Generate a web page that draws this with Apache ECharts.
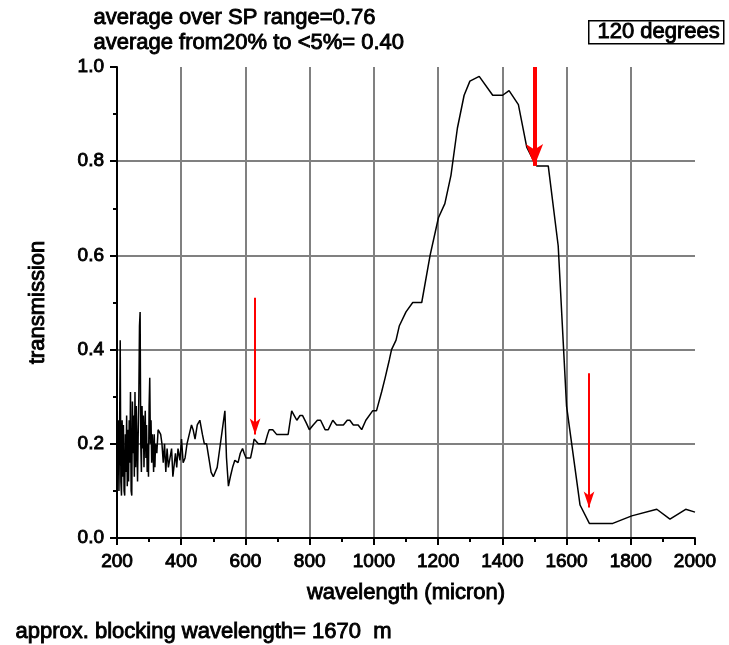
<!DOCTYPE html>
<html>
<head>
<meta charset="utf-8">
<style>
  html, body { margin: 0; padding: 0; background: #fff; }
  #chart { width: 729px; height: 645px; }
</style>
<script src="https://cdn.jsdelivr.net/npm/echarts@6/dist/echarts.min.js"></script>
</head>
<body>
<div id="chart"></div>
<script>
// Wavelength samples (axis labelled "micron") and measured transmission
var wavelength = [
  200, 202, 204, 206, 208, 210, 212, 214, 216, 218, 220, 222, 224, 226, 228, 230,
  232, 234, 236, 238, 240, 242, 244, 246, 248, 250, 252, 254, 256, 258, 260, 262,
  264, 266, 268, 270, 272, 274, 276, 278, 280, 282, 284, 286, 288, 290, 292, 294,
  296, 298, 300, 302, 304, 306, 308, 310, 312, 314, 316, 318, 320, 324, 328, 332,
  336, 340, 344, 348, 352, 356, 360, 365, 370, 374, 378, 382, 386, 390, 396, 401,
  406, 412, 418, 425, 432, 437, 443, 450, 458, 466, 472, 479, 486, 493, 500, 505,
  512, 520, 528, 536, 541, 547, 553, 560, 567, 577, 584, 591, 596, 602, 616, 622,
  627, 633, 640, 661, 669, 674, 685, 697, 733, 744, 752, 760, 770, 778, 789, 799,
  811, 824, 834, 848, 858, 872, 884, 905, 917, 925, 936, 951, 962, 975, 996, 1008,
  1024, 1035, 1048, 1055, 1069, 1079, 1100, 1121, 1149, 1175, 1201, 1221, 1240, 1260, 1281, 1299,
  1328, 1370, 1401, 1421, 1450, 1476, 1502, 1507, 1543, 1574, 1600, 1642, 1671, 1744, 1803, 1881,
  1922, 1971, 2000
];
var transmission = [
  0.30, 0.15, 0.25, 0.10, 0.22, 0.42, 0.12, 0.09, 0.25, 0.13, 0.24, 0.10, 0.09, 0.22, 0.14, 0.26,
  0.11, 0.23, 0.12, 0.25, 0.16, 0.31, 0.10, 0.09, 0.29, 0.18, 0.26, 0.13, 0.31, 0.15, 0.28, 0.20,
  0.12, 0.22, 0.30, 0.45, 0.48, 0.20, 0.14, 0.28, 0.19, 0.26, 0.15, 0.22, 0.27, 0.17, 0.24, 0.14,
  0.20, 0.13, 0.28, 0.34, 0.20, 0.25, 0.16, 0.22, 0.19, 0.14, 0.22, 0.15, 0.20, 0.18, 0.23, 0.23,
  0.22, 0.20, 0.16, 0.20, 0.14, 0.19, 0.15, 0.15, 0.19, 0.13, 0.13, 0.18, 0.15, 0.19, 0.165, 0.21,
  0.16, 0.17, 0.20, 0.22, 0.24, 0.23, 0.21, 0.24, 0.25, 0.22, 0.20, 0.20, 0.17, 0.14, 0.13, 0.13,
  0.15, 0.19, 0.23, 0.27, 0.17, 0.11, 0.13, 0.15, 0.165, 0.16, 0.18, 0.19, 0.18, 0.17, 0.17, 0.19,
  0.21, 0.21, 0.20, 0.20, 0.22, 0.23, 0.23, 0.22, 0.22, 0.27, 0.26, 0.25, 0.26, 0.26, 0.245, 0.23,
  0.24, 0.25, 0.25, 0.23, 0.23, 0.25, 0.24, 0.24, 0.25, 0.25, 0.24, 0.24, 0.23, 0.25, 0.27, 0.27,
  0.31, 0.34, 0.378, 0.40, 0.42, 0.45, 0.48, 0.50, 0.50, 0.60, 0.68, 0.71, 0.77, 0.87, 0.94, 0.97,
  0.98, 0.94, 0.94, 0.95, 0.92, 0.83, 0.795, 0.79, 0.79, 0.62, 0.28, 0.07, 0.031, 0.031, 0.047, 0.061,
  0.04, 0.061, 0.055
];

// Red arrows: wavelength, start and end transmission, stroke width
var arrowX = [630, 1500, 1670];
var arrowFrom = [0.51, 1.0, 0.35];
var arrowTo = [0.22, 0.79, 0.065];
var arrowWidth = [2, 4, 2];

// Header / footer annotations
var statLines = ['average over SP range=0.76', 'average from20% to <5%= 0.40'];
var angleLabel = '120 degrees';
var footerText = 'approx. blocking wavelength= 1670  m';

var FONT = '"Liberation Sans", Arial, sans-serif';
var INK = { textBorderColor: '#000', textBorderWidth: 0.9 };

var points = wavelength.map(function (w, i) { return [w, transmission[i]]; });

var arrowSeries = arrowX.map(function (x, i) {
  var thick = arrowWidth[i] > 2;
  return {
    type: 'line',
    data: [],
    silent: true,
    markLine: {
      silent: true,
      animation: false,
      symbol: ['none', 'arrow'],
      symbolSize: thick ? [13, 22] : [8, 16],
      label: { show: false },
      lineStyle: { color: '#ff0000', width: arrowWidth[i], type: 'solid' },
      data: [[{ coord: [x, arrowFrom[i]] }, { coord: [x, arrowTo[i]] }]]
    }
  };
});

function textEl(left, top, str) {
  return {
    type: 'text', left: left, top: top,
    style: { text: str, font: '22px ' + FONT, fill: '#000', stroke: '#000', lineWidth: 0.9 }
  };
}

var chart = echarts.init(document.getElementById('chart'), null, { renderer: 'canvas' });

chart.setOption({
  animation: false,
  backgroundColor: '#ffffff',
  grid: { left: 117, right: 34, top: 67, bottom: 107, containLabel: false },
  xAxis: {
    type: 'value',
    min: 200,
    max: 2000,
    interval: 200,
    name: 'wavelength (micron)',
    nameLocation: 'middle',
    nameGap: 44,
    nameTextStyle: Object.assign({ fontFamily: FONT, fontSize: 22, color: '#000' }, INK),
    axisLine: { show: true, onZero: false, lineStyle: { color: '#000', width: 2 } },
    axisTick: { show: true, inside: false, length: 7, lineStyle: { color: '#000', width: 2 } },
    minorTick: { show: true, splitNumber: 2, length: 4, lineStyle: { color: '#000', width: 2 } },
    axisLabel: Object.assign({
      fontFamily: FONT, fontSize: 19, color: '#000', margin: 14,
      formatter: function (v) { return String(v); }
    }, INK),
    splitLine: { show: true, showMinLine: false, showMaxLine: false, lineStyle: { color: '#808080', width: 2 } }
  },
  yAxis: {
    type: 'value',
    min: 0,
    max: 1,
    interval: 0.2,
    name: 'transmission',
    nameLocation: 'middle',
    nameGap: 68,
    nameTextStyle: Object.assign({ fontFamily: FONT, fontSize: 22, color: '#000' }, INK),
    axisLine: { show: true, onZero: false, lineStyle: { color: '#000', width: 2 } },
    axisTick: { show: true, inside: false, length: 7, lineStyle: { color: '#000', width: 2 } },
    minorTick: { show: true, splitNumber: 2, length: 4, lineStyle: { color: '#000', width: 2 } },
    axisLabel: Object.assign({
      fontFamily: FONT, fontSize: 19, color: '#000', margin: 13,
      formatter: function (v) { return v.toFixed(1); }
    }, INK),
    splitLine: { show: true, showMinLine: false, showMaxLine: false, lineStyle: { color: '#808080', width: 2 } }
  },
  graphic: [
    textEl(93, 6, statLines[0]),
    textEl(93, 31, statLines[1]),
    {
      type: 'rect', left: 588, top: 20,
      shape: { width: 135, height: 23 },
      style: { fill: '#fff', stroke: '#000', lineWidth: 1.5 }
    },
    textEl(597, 20, angleLabel),
    textEl(15, 620, footerText)
  ],
  series: [
    {
      type: 'line',
      data: points,
      showSymbol: false,
      smooth: false,
      lineStyle: { color: '#000', width: 1.5 },
      z: 3
    }
  ].concat(arrowSeries)
});
</script>
</body>
</html>
